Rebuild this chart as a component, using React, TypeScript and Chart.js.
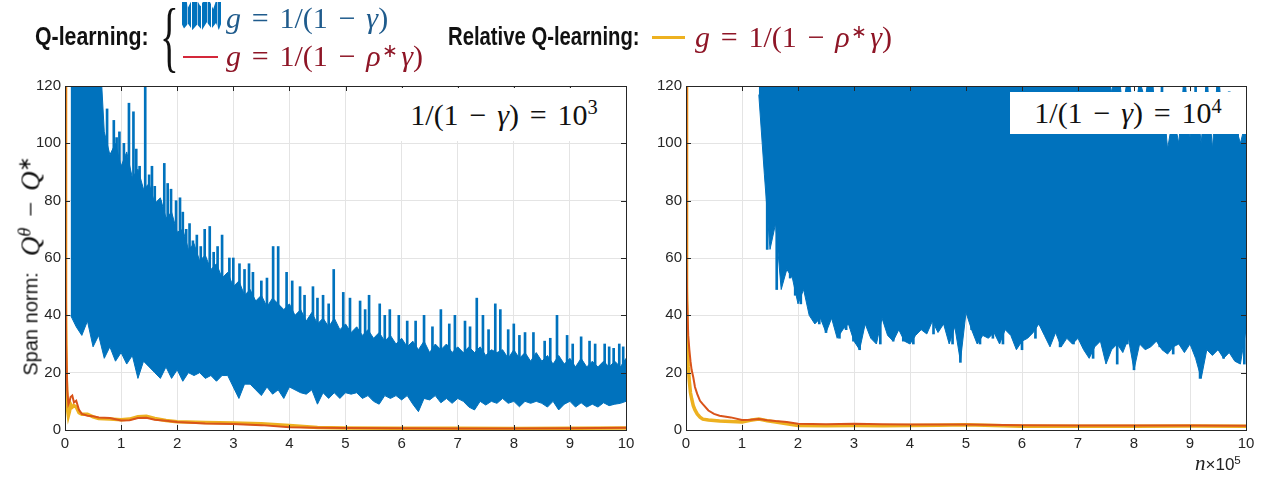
import React, { useEffect, useRef } from "react";
import { Chart, registerables } from "chart.js";
Chart.register(...registerables);

// ---------------- data ----------------
const xTickValues = [0, 1, 2, 3, 4, 5, 6, 7, 8, 9, 10];
const yTickValues = [0, 20, 40, 60, 80, 100, 120];

// sample positions (n x 10^5) of the Q-learning (blue) envelopes
const sampleN = [
  0.1, 0.2, 0.3, 0.4, 0.5, 0.6, 0.7, 0.8, 0.9, 1.0,
  1.1, 1.2, 1.3, 1.4, 1.5, 1.6, 1.7, 1.8, 1.9, 2.0,
  2.1, 2.2, 2.3, 2.4, 2.5, 2.6, 2.7, 2.8, 2.9, 3.0,
  3.1, 3.2, 3.3, 3.4, 3.5, 3.6, 3.7, 3.8, 3.9, 4.0,
  4.1, 4.2, 4.3, 4.4, 4.5, 4.6, 4.7, 4.8, 4.9, 5.0,
  5.1, 5.2, 5.3, 5.4, 5.5, 5.6, 5.7, 5.8, 5.9, 6.0,
  6.1, 6.2, 6.3, 6.4, 6.5, 6.6, 6.7, 6.8, 6.9, 7.0,
  7.1, 7.2, 7.3, 7.4, 7.5, 7.6, 7.7, 7.8, 7.9, 8.0,
  8.1, 8.2, 8.3, 8.4, 8.5, 8.6, 8.7, 8.8, 8.9, 9.0,
  9.1, 9.2, 9.3, 9.4, 9.5, 9.6, 9.7, 9.8, 9.9, 10.0,
];

// ---- left panel, 1/(1-gamma) = 10^3 : Q-learning, g = 1/(1-gamma) ----
const leftBodyTop = [
  140, 140, 140, 140, 140, 140, 104, 96, 100, 92,
  97, 88, 91, 84, 86, 79, 81, 74, 76, 69,
  70, 63, 65, 59, 61, 56, 58, 53, 55, 50,
  52, 47, 49, 45, 47, 43, 46, 44, 42, 44,
  40, 42, 38, 41, 37, 39, 36, 39, 35, 37,
  34, 36, 33, 35, 32, 34, 31, 33, 30, 32,
  29, 31, 28, 31, 27, 30, 28, 30, 27, 29,
  27, 29, 27, 29, 26, 28, 27, 28, 25, 28,
  25, 27, 24, 27, 24, 26, 23, 26, 23, 25,
  22, 25, 22, 24, 22, 24, 22, 24, 22, 25,
];
const leftBodyBottom = [
  40, 36, 33, 38, 29, 33, 25, 29, 24, 27,
  23, 26, 18, 24, 22, 20, 18, 22, 18, 21,
  17, 20, 19, 20, 18, 19, 17, 19, 19, 15,
  11, 16, 16, 14, 12, 15, 12.5, 14, 11, 15,
  14, 13, 12.5, 14, 9, 13, 11, 13, 11, 13,
  12.5, 13, 11, 12, 10, 9, 12, 11, 12, 10.5,
  12, 9, 6.4, 11, 10.5, 12, 9.5, 11, 9.3, 11,
  10, 8, 7, 10, 8.7, 10, 9.3, 11, 9.3, 10,
  8.1, 10, 9.3, 10, 9.3, 8, 10, 7, 9, 10,
  8, 9.5, 8, 9, 8, 9.5, 8.5, 9, 9.3, 10,
];
// isolated excursions of the trace: [low, high]
const leftSpikeN = [
  0.75, 0.87, 0.92, 0.97, 1.05, 1.14, 1.22, 1.27, 1.33, 1.43,
  1.5, 1.55, 1.6, 1.7, 1.77, 1.83, 1.89, 1.98, 2.05, 2.1,
  2.16, 2.22, 2.28, 2.35, 2.42, 2.49, 2.58, 2.65, 2.72, 2.8,
  2.93, 3.0, 3.11, 3.2, 3.28, 3.35, 3.5, 3.6, 3.71, 3.8,
  3.95, 4.05, 4.19, 4.27, 4.42, 4.5, 4.6, 4.7, 4.79, 4.96,
  5.08, 5.26, 5.35, 5.42, 5.61, 5.7, 5.79, 5.95, 6.1, 6.25,
  6.4, 6.55, 6.7, 6.85, 6.95, 7.13, 7.22, 7.34, 7.45, 7.55,
  7.67, 7.76, 7.9, 8.0, 8.1, 8.2, 8.35, 8.55, 8.65, 8.77,
  8.95, 9.05, 9.2, 9.35, 9.45, 9.62, 9.7, 9.78, 9.88, 9.95,
];
const leftSpikeRange = [
  [90, 112], [90, 108], [80, 102], [85, 104], [80, 100], [80, 114], [80, 111], [70, 98], [75, 92], [70, 120],
  [70, 89], [70, 92], [65, 85], [60, 80], [60, 93], [60, 86], [60, 84], [60, 80], [55, 81], [55, 76],
  [55, 70], [50, 72], [50, 66], [50, 68], [50, 64], [50, 70], [50, 71], [45, 62], [45, 64], [45, 68],
  [45, 60], [40, 60], [45, 58], [40, 56], [40, 58], [40, 55], [35, 52], [35, 53], [40, 64], [40, 64],
  [40, 55], [35, 52], [35, 50], [30, 47], [35, 50], [30, 46], [35, 47], [30, 44], [35, 56], [30, 48],
  [30, 46], [30, 45], [28, 42], [30, 47], [30, 44], [28, 40], [28, 42], [28, 40], [26, 38], [25, 38],
  [26, 40], [25, 36], [26, 42], [25, 37], [25, 40], [25, 38], [24, 36], [25, 46], [25, 40], [24, 35],
  [25, 44], [25, 42], [24, 35], [24, 37], [22, 33], [24, 34], [22, 34], [22, 31], [22, 32], [22, 40],
  [22, 33], [20, 30], [22, 32.5], [20, 31], [22, 30], [22, 30], [20, 29], [22, 28.5], [20, 30], [22, 29],
];

// ---- right panel, 1/(1-gamma) = 10^4 (blue starts at n = 1.3) ----
const rightBlueStart = 12;
const rightBodyTop = [
  150, 150, 150, 150, 150, 150, 150, 150, 150, 150,
  150, 150, 150, 150, 150, 150, 150, 150, 150, 150,
  150, 150, 150, 150, 150, 150, 150, 150, 150, 150,
  150, 150, 150, 150, 150, 150, 150, 150, 150, 150,
  150, 150, 150, 150, 150, 150, 150, 150, 150, 150,
  150, 150, 150, 150, 150, 150, 150, 150, 150, 150,
  150, 150, 125, 118, 130, 112, 125, 108, 122, 115,
  130, 105, 120, 98, 110, 100, 125, 102, 118, 100,
  124, 98, 126, 104, 112, 107, 100, 108,
];
const rightBodyBottom = [
  117, 89, 63, 72, 49, 56, 53, 44, 49, 40,
  37, 39, 34, 39, 32, 35, 37, 31, 28, 37,
  32, 30, 39, 33, 31, 35, 31, 30, 33, 35,
  33.5, 38, 34, 37, 30, 36, 24, 41, 35, 30,
  33, 32, 34, 30, 35, 33, 28, 31, 32, 34,
  37, 33, 29, 34, 29, 32, 30, 32, 28, 25,
  29, 31, 23, 28, 30, 27, 32, 21, 30, 28,
  29, 31, 28, 26.5, 29, 30, 27, 30, 25, 18,
  28, 26, 28, 25, 27, 24, 23, 35,
];
const rightSpikeN = [
  1.45, 1.55, 1.62, 1.7, 1.86, 1.95, 2.05, 2.17, 2.27, 2.38,
  2.5, 2.62, 2.74, 2.86, 2.99, 3.1, 3.25, 3.35, 3.47, 3.6,
  3.7, 3.88, 4.06, 4.25, 4.42, 4.65, 4.76, 4.9, 5.1, 5.25,
  5.48, 5.66, 5.85, 6.0, 6.24, 6.48, 6.68, 6.92, 7.1, 7.27,
  7.45, 7.7, 7.88, 8.0, 8.23, 8.46, 8.7, 8.94, 9.18, 9.42,
  9.6, 9.83, 9.97,
  7.55, 7.9, 8.1, 8.3, 8.5, 8.9, 9.1, 9.3, 9.5, 9.7,
  9.85,
];
const rightSpikeRange = [
  [63, 100], [72, 90], [49, 85], [56, 75], [53, 70], [47, 65], [44, 62], [49, 60], [40, 58], [37, 56],
  [34, 54], [39, 52], [32, 52], [35, 52], [31, 50], [28, 50], [37, 50], [32, 50], [30, 50], [39, 50],
  [31, 50], [31, 50], [30, 50], [35, 50], [33.5, 50], [37, 50], [30, 50], [23.6, 50], [35, 50], [30, 50],
  [32, 50], [30, 50], [35, 48], [28, 48], [32, 48], [37, 48], [29, 48], [30, 48], [32, 46], [25, 46],
  [29, 46], [23, 46], [30, 45], [21, 45], [30, 45], [29, 45], [26.5, 44], [30, 44], [18, 44], [28, 44],
  [25, 44], [24, 44], [23, 44],
  [110, 130], [105, 128], [105, 125], [105, 130], [100, 126], [100, 125], [100, 124], [95, 126], [95, 130], [95, 118],
  [95, 112],
];

// ---- Q-learning g = 1/(1-rho* gamma) (red) and relative Q-learning (yellow) ----
const curveN = [
  0, 0.01, 0.02, 0.04, 0.06, 0.08, 0.1, 0.13, 0.16, 0.2,
  0.25, 0.3, 0.4, 0.5, 0.6, 0.8, 1.0, 1.15, 1.3, 1.45,
  1.6, 1.8, 2.0, 2.5, 3.0, 3.5, 4.0, 4.5, 5.0, 6.0,
  7.0, 8.0, 9.0, 10.0,
];
const leftRed = [
  300, 60, 30, 14, 9, 10, 11.5, 12, 9.6, 10.2,
  7, 5.6, 5, 4.8, 4.4, 4.2, 3.3, 3.4, 4.2, 4.3,
  3.6, 3.2, 2.8, 2.3, 2.1, 1.7, 1.0, 0.8, 0.7, 0.6,
  0.5, 0.5, 0.6, 0.8,
];
const leftYellow = [
  300, 45, 20, 8, 5, 6.5, 9, 8, 8.5, 8,
  6, 5.5, 5.5, 4.6, 4.0, 3.8, 3.6, 3.8, 4.6, 4.8,
  4.0, 3.3, 2.9, 2.6, 2.4, 2.2, 1.6, 0.9, 0.7, 0.6,
  0.6, 0.5, 0.6, 0.7,
];
const rightRed = [
  300, 62, 45, 33, 28, 24, 21, 18.4, 15, 12.6,
  10.2, 9, 6.8, 5.6, 5.0, 4.4, 3.5, 3.6, 3.8, 3.4,
  3.1, 2.8, 2.2, 2.0, 2.2, 2.0, 1.9, 1.9, 1.9, 1.7,
  1.6, 1.6, 1.6, 1.5,
];
const rightYellow = [
  300, 50, 32, 22, 17, 13, 11, 8.5, 7, 5.6,
  4.5, 3.8, 3.5, 3.3, 3.1, 3.0, 2.8, 3.4, 3.8, 3.2,
  2.8, 2.2, 1.6, 1.5, 1.6, 1.5, 1.6, 1.7, 1.8, 1.3,
  1.3, 1.3, 1.4, 1.3,
];

// ---------------- styles ----------------
const BLUE = "#0072BD";
const RED = "#D95319";
const YELLOW = "#EDB120";
const AXIS = "#262626";
const GRID = "#e4e4e4";
const SANS = "'Liberation Sans', Arial, sans-serif";
const SERIF = "'Liberation Serif', 'Times New Roman', serif";

const framePlugin = {
  id: "frameTicks",
  afterDraw(chart: any) {
    const { ctx, chartArea: a, scales } = chart;
    ctx.save();
    ctx.strokeStyle = AXIS;
    ctx.lineWidth = 1;
    const L = 5;
    ctx.beginPath();
    ctx.rect(Math.round(a.left) + 0.5, Math.round(a.top) + 0.5, Math.round(a.right - a.left), Math.round(a.bottom - a.top));
    scales.x.ticks.forEach((t: any) => {
      const px = Math.round(scales.x.getPixelForValue(t.value)) + 0.5;
      ctx.moveTo(px, a.bottom);
      ctx.lineTo(px, a.bottom - L);
      ctx.moveTo(px, a.top);
      ctx.lineTo(px, a.top + L);
    });
    scales.y.ticks.forEach((t: any) => {
      const py = Math.round(scales.y.getPixelForValue(t.value)) + 0.5;
      ctx.moveTo(a.left, py);
      ctx.lineTo(a.left + L, py);
      ctx.moveTo(a.right, py);
      ctx.lineTo(a.right - L, py);
    });
    ctx.stroke();
    ctx.restore();
  },
};

function pts(xs: number[], ys: any[]) {
  return ys.map((y, i) => ({ x: xs[i], y }));
}

function makeConfig(
  bodyN: number[], top: number[], bottom: number[], spikeN: number[], spikeRange: number[][],
  red: number[], yellow: number[], yWidth: number, padRight: number
): any {
  const tickFont = { family: SANS, size: 15 };
  return {
    type: "line",
    data: {
      datasets: [
        { data: pts(bodyN, top), borderColor: BLUE, backgroundColor: BLUE, borderWidth: 1, pointRadius: 0, fill: "+1", order: 3, tension: 0 },
        { data: pts(bodyN, bottom), borderColor: BLUE, backgroundColor: BLUE, borderWidth: 1, pointRadius: 0, fill: false, order: 3, tension: 0 },
        { type: "bar", data: pts(spikeN, spikeRange), backgroundColor: BLUE, borderWidth: 0, barThickness: 2, grouped: false, order: 3 },
        { data: pts(curveN, yellow), borderColor: YELLOW, borderWidth: 3.5, pointRadius: 0, fill: false, order: 2, tension: 0 },
        { data: pts(curveN, red), borderColor: RED, borderWidth: 2, pointRadius: 0, fill: false, order: 1, tension: 0 },
      ],
    },
    options: {
      animation: false,
      responsive: false,
      maintainAspectRatio: false,
      events: [],
      layout: { padding: { top: 86, right: padRight, bottom: 23, left: 0 } },
      plugins: { legend: { display: false }, tooltip: { enabled: false } },
      scales: {
        x: {
          type: "linear",
          min: 0,
          max: 10,
          offset: false,
          afterBuildTicks: (s: any) => { s.ticks = xTickValues.map((v) => ({ value: v })); },
          afterFit: (s: any) => { s.height = 30; },
          grid: { color: GRID, drawTicks: false, offset: false },
          border: { color: AXIS },
          ticks: { padding: 5, color: AXIS, font: tickFont, maxRotation: 0, autoSkip: false },
        },
        y: {
          type: "linear",
          min: 0,
          max: 120,
          afterBuildTicks: (s: any) => { s.ticks = yTickValues.map((v) => ({ value: v })); },
          afterFit: (s: any) => { s.width = yWidth; },
          grid: { color: GRID, drawTicks: false },
          border: { color: AXIS },
          ticks: { padding: 4, color: AXIS, font: tickFont, autoSkip: false },
        },
      },
    },
    plugins: [framePlugin],
  };
}

const sup: React.CSSProperties = { fontSize: "0.68em", position: "relative", top: "-0.5em", lineHeight: 0 };
const opM: React.CSSProperties = { margin: "0 0.36em" };

function MathG({ rho, color, size }: { rho: boolean; color: string; size: number }) {
  return (
    <span style={{ fontFamily: SERIF, fontSize: size, color, whiteSpace: "nowrap" }}>
      <i>g</i>
      <span style={opM}>=</span>
      1/(1
      <span style={opM}>−</span>
      {rho ? (<><i>ρ</i><span style={{ ...sup, fontSize: "0.62em", margin: "0 0.18em 0 0.06em" }}>∗</span></>) : null}
      <i>γ</i>)
    </span>
  );
}

function Annot({ power }: { power: string }) {
  return (
    <span style={{ fontFamily: SERIF, fontSize: 30, color: "#111", whiteSpace: "nowrap" }}>
      1/(1<span style={opM}>−</span><i>γ</i>)<span style={opM}>=</span>10<span style={sup}>{power}</span>
    </span>
  );
}

const boldCond = (left: number, top: number, scale: number): React.CSSProperties => ({
  position: "absolute", left, top, fontFamily: SANS, fontWeight: 700, fontSize: 26, color: "#111",
  whiteSpace: "nowrap", lineHeight: "36px", transform: `scaleX(${scale})`, transformOrigin: "left center",
});

export default function App() {
  const leftRef = useRef<HTMLCanvasElement>(null);
  const rightRef = useRef<HTMLCanvasElement>(null);

  useEffect(() => {
    const c1 = new Chart(leftRef.current as HTMLCanvasElement,
      makeConfig(sampleN, leftBodyTop, leftBodyBottom, leftSpikeN, leftSpikeRange, leftRed, leftYellow, 65, 14));
    const rN = sampleN.slice(rightBlueStart);
    const c2 = new Chart(rightRef.current as HTMLCanvasElement,
      makeConfig(rN, rightBodyTop, rightBodyBottom, rightSpikeN, rightSpikeRange, rightRed, rightYellow, 46, 22));
    return () => { c1.destroy(); c2.destroy(); };
  }, []);

  const abs = (s: React.CSSProperties): React.CSSProperties => ({ position: "absolute", ...s });

  return (
    <div style={{ position: "absolute", left: 0, top: 0, width: 1268, height: 483, background: "#fff", overflow: "hidden" }}>
      <canvas ref={leftRef} width={640} height={483} style={abs({ left: 0, top: 0, width: 640, height: 483 })} />
      <canvas ref={rightRef} width={628} height={483} style={abs({ left: 640, top: 0, width: 628, height: 483 })} />

      {/* annotation boxes */}
      <div style={abs({ left: 382, top: 88, width: 244, height: 53, background: "#fff", display: "flex", alignItems: "center", justifyContent: "center" })}>
        <Annot power="3" />
      </div>
      <div style={abs({ left: 1010, top: 92, width: 236, height: 42, background: "#fff", display: "flex", alignItems: "center", justifyContent: "center" })}>
        <Annot power="4" />
      </div>

      {/* y axis title */}
      <div style={abs({ left: 31, top: 266, transform: "translate(-50%, -50%) rotate(-90deg)", whiteSpace: "nowrap", color: "#111", display: "flex", alignItems: "center" })}>
        <span style={{ fontFamily: SANS, fontSize: 20 }}>Span norm:</span>
        <span style={{ fontFamily: SERIF, fontSize: 27, marginLeft: 16 }}>
          <i>Q</i><span style={sup}><i>θ</i></span><span style={{ margin: "0 0.4em" }}>−</span><i>Q</i><span style={sup}>∗</span>
        </span>
      </div>

      {/* x axis unit */}
      <div style={abs({ left: 1195, top: 451, whiteSpace: "nowrap", color: "#222" })}>
        <span style={{ fontFamily: SERIF, fontStyle: "italic", fontSize: 21 }}>n</span>
        <span style={{ fontFamily: SANS, fontSize: 17 }}>×10<span style={sup}>5</span></span>
      </div>

      {/* legend */}
      <div style={boldCond(35, 18, 0.82)}>Q-learning:</div>
      <div style={abs({ left: 160, top: -6, fontFamily: SERIF, fontSize: 78, lineHeight: "86px", color: "#111", transform: "scaleX(0.5)", transformOrigin: "left top" })}>{"{"}</div>
      <div style={abs({
        left: 182, top: 2, width: 40, height: 28,
        background: `repeating-linear-gradient(90deg, ${BLUE} 0px, ${BLUE} 5px, #9cc3e3 5px, #9cc3e3 6px, ${BLUE} 6px, ${BLUE} 9px, #ffffff 9px, #ffffff 10px)`,
        clipPath: "polygon(0% 0%, 12% 0%, 15% 20%, 22% 0%, 40% 0%, 46% 15%, 52% 0%, 70% 0%, 78% 25%, 84% 0%, 100% 0%, 100% 70%, 92% 100%, 85% 75%, 74% 95%, 62% 72%, 50% 100%, 38% 80%, 26% 100%, 15% 78%, 5% 95%, 0% 80%)",
      })} />
      <div style={abs({ left: 226, top: 0, lineHeight: "36px" })}><MathG rho={false} color="#1f5b8c" size={30} /></div>
      <div style={abs({ left: 183, top: 56, width: 35, height: 2, background: "#d4283a" })} />
      <div style={abs({ left: 226, top: 38, lineHeight: "36px" })}><MathG rho={true} color="#8e1526" size={30} /></div>

      <div style={boldCond(448, 18, 0.78)}>Relative Q-learning:</div>
      <div style={abs({ left: 652, top: 36, width: 33, height: 3, background: YELLOW })} />
      <div style={abs({ left: 695, top: 19, lineHeight: "36px" })}><MathG rho={true} color="#8e1526" size={30} /></div>
    </div>
  );
}
